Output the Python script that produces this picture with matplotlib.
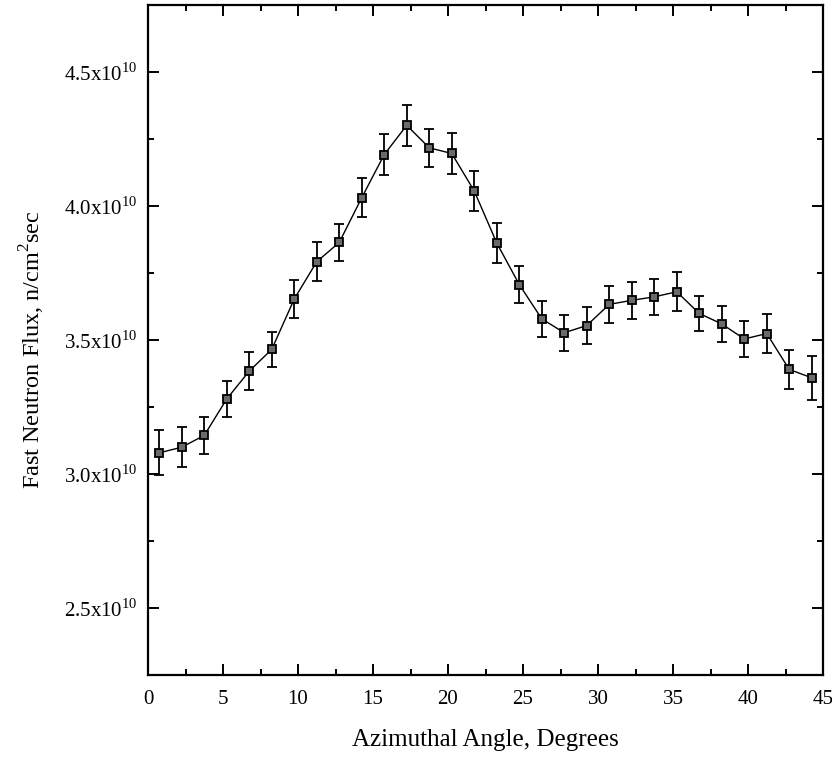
import numpy as np
import matplotlib
matplotlib.use("Agg")
import matplotlib.pyplot as plt
from matplotlib.ticker import MultipleLocator, FuncFormatter

plt.rcParams['font.family'] = ['Liberation Serif', 'DejaVu Serif']
plt.rcParams['mathtext.fontset'] = 'custom'
plt.rcParams['mathtext.rm'] = 'Liberation Serif'

# azimuthal angle (degrees) and fast neutron flux (units of 1e10 n/cm^2 sec)
angle = [0.75, 2.25, 3.75, 5.25, 6.75, 8.25, 9.75, 11.25, 12.75, 14.25,
         15.75, 17.25, 18.75, 20.25, 21.75, 23.25, 24.75, 26.25, 27.75, 29.25,
         30.75, 32.25, 33.75, 35.25, 36.75, 38.25, 39.75, 41.25, 42.75, 44.25]
flux = [3.079, 3.100, 3.144, 3.280, 3.384, 3.465, 3.653, 3.792, 3.864, 4.031,
        4.192, 4.301, 4.217, 4.196, 4.056, 3.862, 3.707, 3.579, 3.527, 3.554,
        3.633, 3.648, 3.661, 3.680, 3.599, 3.560, 3.504, 3.524, 3.390, 3.359]
err = [0.084, 0.075, 0.068, 0.068, 0.070, 0.066, 0.071, 0.072, 0.070, 0.072,
       0.076, 0.076, 0.072, 0.075, 0.074, 0.073, 0.070, 0.066, 0.068, 0.069,
       0.070, 0.069, 0.068, 0.073, 0.064, 0.067, 0.066, 0.073, 0.074, 0.083]

fig = plt.figure(figsize=(8.32, 7.59), dpi=100)
# axes box: left 148px, right 823px, top 5px, bottom 675px
ax = fig.add_axes([148/832, 1 - 675/759, 675/832, 670/759])

ax.errorbar(angle, flux, yerr=err, color='black', lw=1.0, elinewidth=1.3,
            capsize=3.5, capthick=1.3, marker='s', markersize=5.5,
            mfc='#6a6a6a', mec='black', mew=1.3)

ax.set_xlim(0, 45)
ax.set_ylim(2.25, 4.75)
ax.xaxis.set_major_locator(MultipleLocator(5))
ax.xaxis.set_minor_locator(MultipleLocator(2.5))
ax.yaxis.set_major_locator(MultipleLocator(0.5))
ax.yaxis.set_minor_locator(MultipleLocator(0.25))
ax.yaxis.set_major_formatter(FuncFormatter(lambda v, p: f"{v:.1f}x10$^{{10}}$"))

ax.tick_params(which='both', direction='in', top=True, right=True,
               labelsize=15, width=1.4)
ax.tick_params(which='major', length=8)
ax.tick_params(which='minor', length=4.5)
ax.tick_params(axis='x', which='major', pad=10.5)
ax.tick_params(axis='y', which='major', pad=7.5)
for s in ax.spines.values():
    s.set_linewidth(1.6)

ax.set_xlabel("Azimuthal Angle, Degrees", fontsize=18)
ax.set_ylabel("Fast Neutron Flux, n/cm$^2$sec", fontsize=17.5)
ax.xaxis.set_label_coords(0.5, -(740 - 675) / 670)
ax.xaxis.label.set_va('center')
ax.yaxis.set_label_coords(-(148 - 32) / 675, (675 - 350) / 670)
ax.yaxis.label.set_va('center')

fig.savefig("out.png", dpi=100)
